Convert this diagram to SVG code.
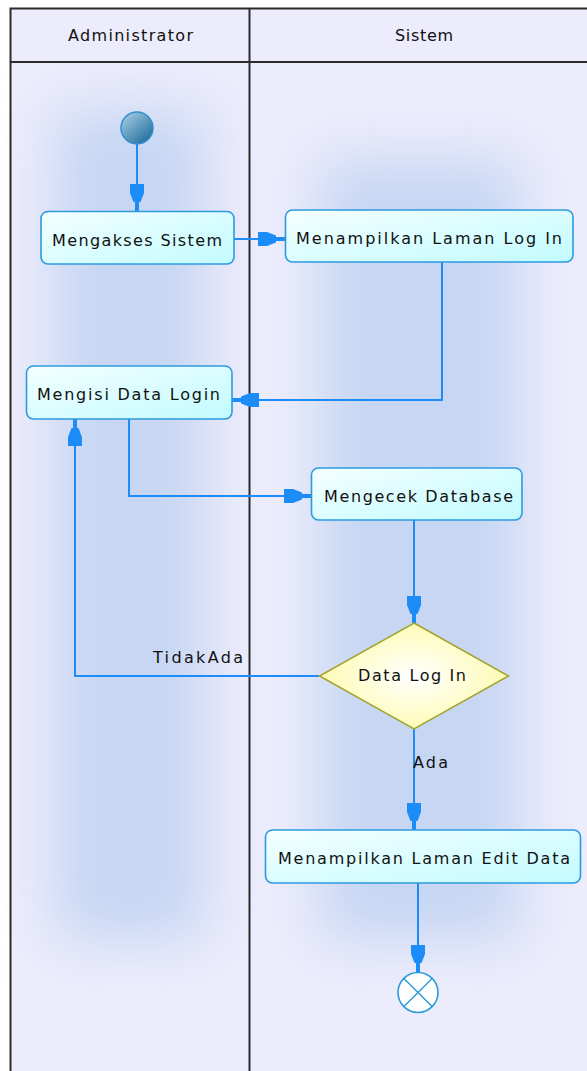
<svg xmlns="http://www.w3.org/2000/svg" width="587" height="1071" viewBox="0 0 587 1071">
  <style>
    .lane-line { stroke: #2b2b2b; stroke-width: 2; fill: none; }
    .hdr { font-family: "DejaVu Sans", sans-serif; font-size: 16px; fill: #111; }
    .lbl { font-family: "DejaVu Sans", sans-serif; font-size: 16px; fill: #111; }
    .act { fill: url(#actFill); stroke: #2e9ade; stroke-width: 1.6; }
    .flow { fill: none; stroke: #1c8cf8; stroke-width: 2; marker-end: url(#arrow); }
  </style>
  <defs>
    <linearGradient id="actFill" x1="0" y1="0" x2="1" y2="1">
      <stop offset="0" stop-color="#f4ffff"/>
      <stop offset="1" stop-color="#c2fbff"/>
    </linearGradient>
    <radialGradient id="decFill" cx="0.5" cy="0.5" r="0.55">
      <stop offset="0" stop-color="#ffffff"/>
      <stop offset="1" stop-color="#fdfbae"/>
    </radialGradient>
    <linearGradient id="startFill" x1="0.15" y1="0.1" x2="0.85" y2="0.9">
      <stop offset="0" stop-color="#9cc6de"/>
      <stop offset="1" stop-color="#26709e"/>
    </linearGradient>
    <filter id="soft" x="-50%" y="-20%" width="200%" height="140%">
      <feGaussianBlur stdDeviation="28"/>
    </filter>
    <marker id="arrow" markerUnits="userSpaceOnUse" orient="auto" refX="0" refY="0" markerWidth="30" markerHeight="16" overflow="visible">
      <path d="M0,-2 L-9,-2 L-9,-3.5 L-18,-7 L-27,-7 L-27,7 L-18,7 L-9,3.5 L-9,2 L0,2 Z" fill="#1c8cf8"/>
    </marker>
  </defs>

  <!-- page -->
  <rect x="0" y="0" width="587" height="1071" fill="#ffffff"/>

  <!-- swimlane area with soft shading in each lane -->
  <g id="lanes">
    <rect x="10" y="8" width="580" height="1070" fill="#ececfc"/>
    <rect x="55" y="110" width="150" height="830" fill="#c6d6f3" filter="url(#soft)"/>
    <rect x="320" y="160" width="200" height="780" fill="#c6d6f3" filter="url(#soft)"/>
    <path class="lane-line" d="M10.5,1071 V8.5 H590"/>
    <line class="lane-line" x1="10" y1="62" x2="590" y2="62"/>
    <line class="lane-line" x1="249.5" y1="8" x2="249.5" y2="1071"/>
    <text class="hdr" x="68" y="41" textLength="125" lengthAdjust="spacing">Administrator</text>
    <text class="hdr" x="395" y="41" textLength="58" lengthAdjust="spacing">Sistem</text>
  </g>

  <!-- connectors -->
  <g id="connectors">
    <path class="flow" d="M137,144 V211"/>
    <path class="flow" d="M234,239 H285"/>
    <path class="flow" d="M442,262 V400 H232"/>
    <path class="flow" d="M129,419 V496 H311"/>
    <path class="flow" d="M414,520 V623"/>
    <path class="flow" d="M319,676 H75 V419"/>
    <path class="flow" d="M414,729 V830"/>
    <path class="flow" d="M418,883 V972"/>
    <text class="lbl" x="153" y="663" textLength="90" lengthAdjust="spacing">TidakAda</text>
    <text class="lbl" x="413" y="768" textLength="35" lengthAdjust="spacing">Ada</text>
  </g>

  <g id="start">
    <circle cx="137" cy="128" r="16" fill="url(#startFill)" stroke="#2f8fd0" stroke-width="1.5"/>
  </g>

  <g id="mengakses-sistem">
    <rect class="act" x="41" y="211.5" width="193" height="52.5" rx="7"/>
    <text class="lbl" x="52" y="245.5" textLength="170" lengthAdjust="spacing">Mengakses Sistem</text>
  </g>

  <g id="menampilkan-login">
    <rect class="act" x="285.5" y="210" width="287.5" height="52" rx="7"/>
    <text class="lbl" x="296" y="243.5" textLength="266" lengthAdjust="spacing">Menampilkan Laman Log In</text>
  </g>

  <g id="mengisi-data">
    <rect class="act" x="26.5" y="366" width="205.5" height="53" rx="7"/>
    <text class="lbl" x="37" y="399.5" textLength="183" lengthAdjust="spacing">Mengisi Data Login</text>
  </g>

  <g id="mengecek-database">
    <rect class="act" x="311.5" y="468" width="210.5" height="52" rx="7"/>
    <text class="lbl" x="324" y="501.5" textLength="189" lengthAdjust="spacing">Mengecek Database</text>
  </g>

  <g id="data-login">
    <polygon points="414,623 508.5,676 414,729 319.5,676" fill="url(#decFill)" stroke="#a3a32c" stroke-width="1.5"/>
    <text class="lbl" x="358" y="681" textLength="108" lengthAdjust="spacing">Data Log In</text>
  </g>

  <g id="edit-data">
    <rect class="act" x="265.5" y="830" width="315" height="53" rx="7"/>
    <text class="lbl" x="278" y="863.5" textLength="292" lengthAdjust="spacing">Menampilkan Laman Edit Data</text>
  </g>

  <g id="end">
    <circle cx="418" cy="992.5" r="20" fill="#ffffff" stroke="#2b9bd8" stroke-width="1.6"/>
    <path d="M403.9,978.4 L432.1,1006.6 M432.1,978.4 L403.9,1006.6" stroke="#2b9bd8" stroke-width="1.4"/>
  </g>
</svg>
